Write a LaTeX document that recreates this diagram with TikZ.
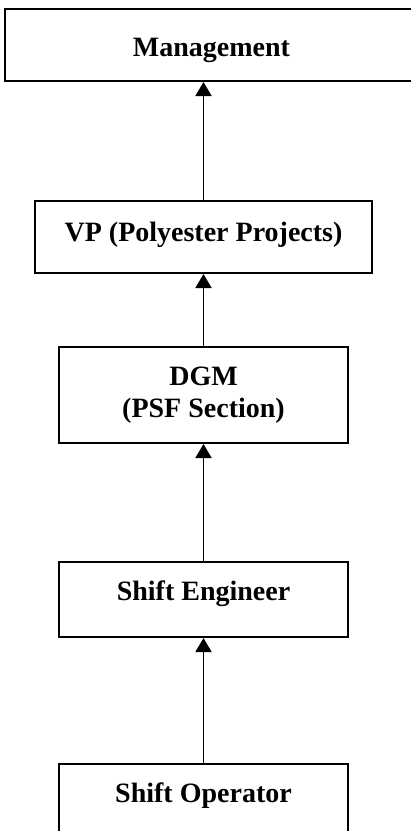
\documentclass[tikz,border=0pt]{standalone}
\usepackage{fontspec}
\setmainfont{Liberation Serif}
\usepackage{tikz}
\usetikzlibrary{positioning,arrows.meta}

\begin{document}
\begin{tikzpicture}[box/.style={draw, line width=2pt, inner xsep=0pt, inner ysep=0pt, align=center, font=\fontsize{28pt}{32pt}\selectfont\bfseries}, up/.style={-{Triangle[length=14pt, width=16pt]}, line width=1.8pt}]
\useasboundingbox (0pt,0pt) rectangle (411pt,-831pt);
\node[box, anchor=north west, minimum width=414pt, text height=47pt, text depth=25pt] (mgmt) at (3.5pt,-8pt) {Management};
\node[box, anchor=north, minimum width=337pt, text height=40pt, text depth=32pt] (vp) at (203.5pt,-200pt) {VP (Polyester Projects)};
\node[box, below=72pt of vp, minimum width=288.5pt, minimum height=96pt] (dgm) {DGM\\(PSF Section)};
\node[box, below=117pt of dgm, minimum width=288.5pt, text height=38pt, text depth=37pt] (eng) {Shift Engineer};
\node[box, below=125pt of eng, minimum width=288.5pt, text height=38pt, text depth=37pt] (op) {Shift Operator};
\draw[up] (vp.north) -- (vp.north |- mgmt.south);
\draw[up] (dgm) -- (vp);
\draw[up] (eng) -- (dgm);
\draw[up] (op) -- (eng);
\end{tikzpicture}
\end{document}
